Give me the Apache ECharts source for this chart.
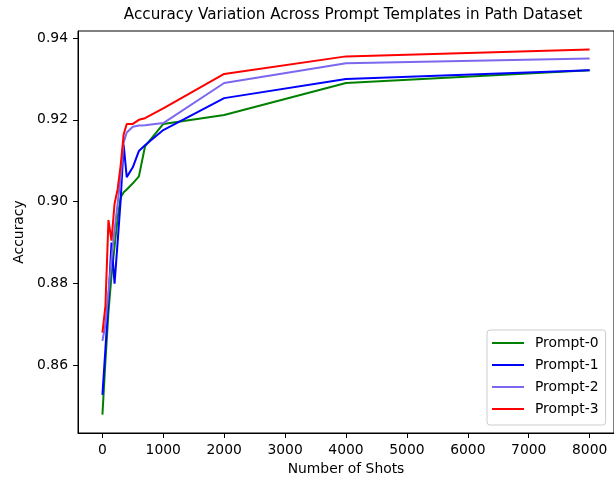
<!DOCTYPE html>
<html>
<head>
<meta charset="utf-8">
<title>Accuracy Variation Across Prompt Templates in Path Dataset</title>
<script src="https://cdn.jsdelivr.net/npm/echarts@6/dist/echarts.min.js"></script>
<style>
  html, body { margin: 0; padding: 0; background: #fff; }
  #chart { width: 614px; height: 483px; }
</style>
</head>
<body>
<div id="chart"></div>
<script>
// Number of in-context examples (shots) evaluated
const shots = [1, 50, 100, 150, 200, 250, 300, 350, 400, 500, 600, 700, 1000, 2000, 4000, 8000];

// Accuracy per prompt template
const prompt0 = [0.8480, 0.8610, 0.8730, 0.8820, 0.8890, 0.8960, 0.9010, 0.9023, 0.9030, 0.9045, 0.9062, 0.9135, 0.9190, 0.9212, 0.9290, 0.9321];
const prompt1 = [0.8528, 0.8640, 0.8760, 0.8900, 0.8800, 0.8900, 0.9003, 0.9139, 0.9060, 0.9084, 0.9124, 0.9138, 0.9175, 0.9253, 0.9300, 0.9321];
const prompt2 = [0.8660, 0.8700, 0.8780, 0.8860, 0.8930, 0.8995, 0.9060, 0.9145, 0.9169, 0.9183, 0.9186, 0.9187, 0.9192, 0.9290, 0.9338, 0.9350];
const prompt3 = [0.8680, 0.8745, 0.8955, 0.8905, 0.8995, 0.9030, 0.9088, 0.9165, 0.9190, 0.9190, 0.9200, 0.9204, 0.9228, 0.9312, 0.9355, 0.9372];

const seriesNames = ['Prompt-0', 'Prompt-1', 'Prompt-2', 'Prompt-3'];
const seriesValues = [prompt0, prompt1, prompt2, prompt3];
const seriesColors = ['#008000', '#0000ff', '#7b68ee', '#ff0000'];

// Tick labels
const xTicks = [0, 1000, 2000, 3000, 4000, 5000, 6000, 7000, 8000];
const yTicks = [0.86, 0.88, 0.90, 0.92, 0.94];

const FONT = 'DejaVu Sans';
const chart = echarts.init(document.getElementById('chart'), null, { renderer: 'canvas' });

chart.setOption({
  animation: false,
  backgroundColor: '#ffffff',
  textStyle: { fontFamily: FONT },
  title: {
    text: 'Accuracy Variation Across Prompt Templates in Path Dataset',
    left: 348,
    top: 3,
    textAlign: 'center',
    textStyle: { fontFamily: FONT, fontSize: 15.2, fontWeight: 'normal', color: '#000' }
  },
  grid: {
    left: 78, top: 31, width: 540, height: 402,
    show: true, borderColor: '#000', borderWidth: 1, backgroundColor: 'transparent'
  },
  legend: {
    orient: 'vertical',
    left: 487, top: 330,
    icon: 'rect',
    itemWidth: 32, itemHeight: 2,
    itemGap: 8,
    padding: [6, 7, 9, 5],
    backgroundColor: '#fff',
    borderColor: '#cccccc', borderWidth: 1, borderRadius: 3,
    textStyle: { fontFamily: FONT, fontSize: 13.89, color: '#000', lineHeight: 14, padding: [0, 0, 0, 6] },
    data: seriesNames
  },
  xAxis: {
    type: 'value',
    min: -400, max: 8400,
    name: 'Number of Shots',
    nameLocation: 'middle',
    nameGap: 29,
    nameTextStyle: { fontFamily: FONT, fontSize: 13.89, color: '#000' },
    axisLine: { show: true, onZero: false, lineStyle: { color: '#000', width: 1 } },
    axisTick: { show: true, length: 5, customValues: xTicks, lineStyle: { color: '#000' } },
    axisLabel: {
      customValues: xTicks, margin: 10, fontFamily: FONT, fontSize: 13.89, color: '#000',
      formatter: v => String(Math.round(v))
    },
    splitLine: { show: false }
  },
  yAxis: {
    type: 'value',
    min: 0.8435, max: 0.9417,
    name: 'Accuracy',
    nameLocation: 'middle',
    nameGap: 52,
    nameTextStyle: { fontFamily: FONT, fontSize: 13.89, color: '#000' },
    axisLine: { show: true, onZero: false, lineStyle: { color: '#000', width: 1 } },
    axisTick: { show: true, length: 5, customValues: yTicks, lineStyle: { color: '#000' } },
    axisLabel: {
      customValues: yTicks, margin: 10, fontFamily: FONT, fontSize: 13.89, color: '#000',
      formatter: v => v.toFixed(2)
    },
    splitLine: { show: false }
  },
  series: seriesNames.map((name, i) => ({
    name: name,
    type: 'line',
    data: shots.map((s, j) => [s, seriesValues[i][j]]),
    showSymbol: false,
    symbol: 'none',
    color: seriesColors[i],
    lineStyle: { color: seriesColors[i], width: 2 },
    emphasis: { disabled: true }
  }))
});
</script>
</body>
</html>
